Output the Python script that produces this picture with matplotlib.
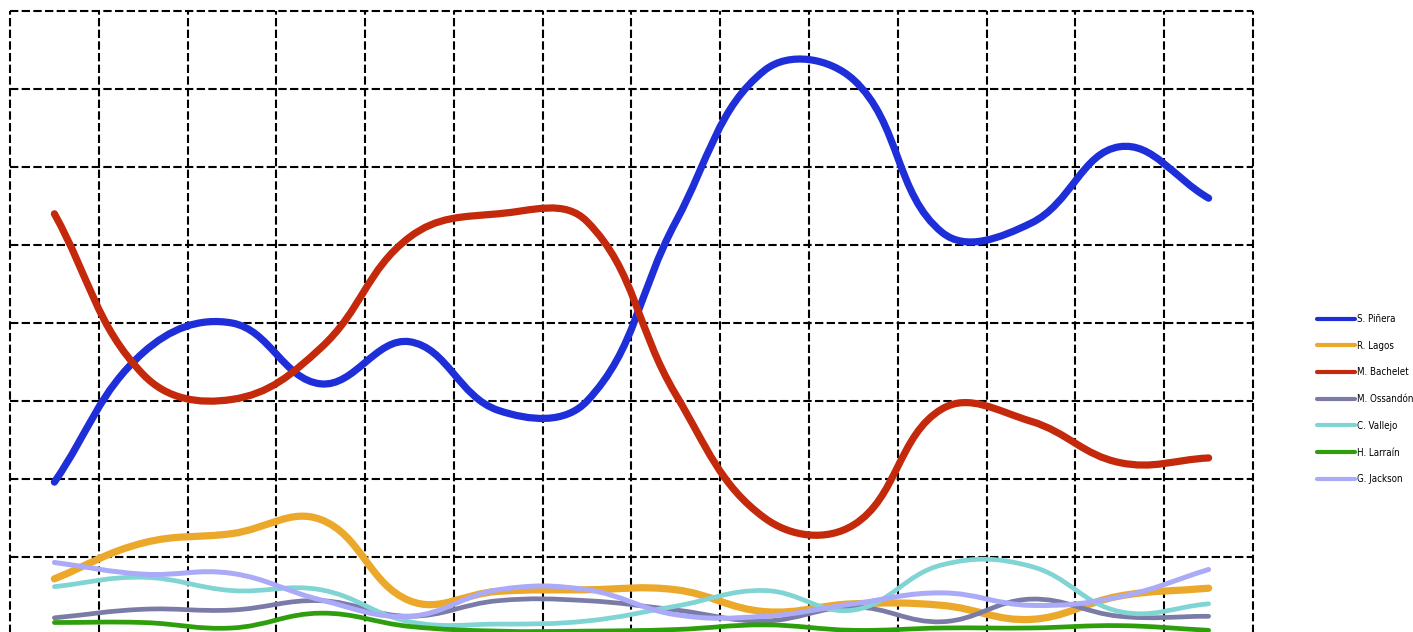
import numpy as np
import matplotlib
matplotlib.use("Agg")
import matplotlib.pyplot as plt
from matplotlib.path import Path
from matplotlib.patches import PathPatch
from matplotlib.lines import Line2D
from matplotlib.font_manager import FontProperties

# poll readings, 14 rounds
rounds = list(range(14))
names = ["S. Piñera", "R. Lagos", "M. Bachelet", "M. Ossandón",
         "C. Vallejo", "H. Larraín", "G. Jackson"]
pinera = [9.8, 18.1, 20.0, 16.1, 18.8, 14.4, 15.0, 26.5, 36.2, 35.6, 25.8, 26.4, 31.3, 28.0]
lagos = [3.6, 5.9, 6.5, 7.4, 2.2, 2.8, 2.9, 2.9, 1.5, 2.0, 1.9, 1.0, 2.5, 3.0]
bachelet = [27.0, 16.7, 15.1, 18.4, 25.5, 27.0, 26.5, 15.4, 7.5, 7.05, 14.5, 13.7, 11.05, 11.35]
ossandon = [1.1, 1.65, 1.6, 2.2, 1.2, 2.2, 2.2, 1.6, 0.9, 1.8, 0.85, 2.3, 1.2, 1.2]
vallejo = [3.1, 3.7, 2.85, 2.9, 0.85, 0.7, 0.9, 1.85, 2.85, 1.6, 4.5, 4.4, 1.5, 2.0]
larrain = [0.8, 0.8, 0.45, 1.4, 0.55, 0.25, 0.25, 0.35, 0.65, 0.3, 0.45, 0.45, 0.6, 0.3]
jackson = [4.65, 3.9, 3.95, 2.25, 1.2, 2.9, 2.9, 1.3, 1.2, 2.0, 2.7, 1.9, 2.45, 4.2]

series = [pinera, lagos, bachelet, ossandon, vallejo, larrain, jackson]
colors = ["#1e2ed8", "#eba82a", "#c4290b", "#7b7ba8", "#80d4d4", "#2f9e0c", "#aaaaf8"]
widths = [5.2, 5.2, 5.2, 3.4, 3.4, 3.4, 3.6]

fig = plt.figure(figsize=(14.13, 6.32), dpi=100)
ax = fig.add_axes([10 / 1413, 1 - 635 / 632, 1243 / 1413, 624 / 632])
ax.set_xlim(-0.5, 13.5)
ax.set_ylim(0, 40)
ax.axis("off")

# dashed grid, drawn by hand so the edge lines are not cut in half
for gx in np.arange(-0.5, 14, 1):
    ax.axvline(gx, color="black", lw=1.5, dashes=(4, 1.6), clip_on=False, zorder=1)
for gy in np.arange(0, 45, 5):
    ax.axhline(gy, color="black", lw=1.5, dashes=(4, 1.6), clip_on=False, zorder=1)


def smooth_path(xs, ys, tension=0.4):
    # bezier spline like chart.js, control points worked out in pixels
    pts = ax.transData.transform(np.column_stack([xs, ys]))
    n = len(pts)
    cp_prev = pts.copy()
    cp_next = pts.copy()
    for i in range(n):
        p = pts[max(i - 1, 0)]
        c = pts[i]
        nx = pts[min(i + 1, n - 1)]
        d01 = np.hypot(*(c - p))
        d12 = np.hypot(*(nx - c))
        tot = d01 + d12
        if tot == 0:
            continue
        fa = tension * d01 / tot
        fb = tension * d12 / tot
        cp_prev[i] = c - fa * (nx - p)
        cp_next[i] = c + fb * (nx - p)
    verts = [pts[0]]
    codes = [Path.MOVETO]
    for i in range(n - 1):
        verts += [cp_next[i], cp_prev[i + 1], pts[i + 1]]
        codes += [Path.CURVE4] * 3
    verts = ax.transData.inverted().transform(np.array(verts))
    return Path(verts, codes)


for vals, col, lw in zip(series, colors, widths):
    patch = PathPatch(smooth_path(rounds, vals), fill=False, edgecolor=col,
                      lw=lw, capstyle="round", joinstyle="round", zorder=3,
                      clip_on=False)
    ax.add_patch(patch)

font = FontProperties(family=["DejaVu Sans"], stretch="condensed", size=7)
handles = [Line2D([], [], color=c, lw=3, solid_capstyle="round") for c in colors]
fig.legend(handles, names, loc="upper left",
           bbox_to_anchor=(1317 / 1413, 1 - 314 / 632),
           frameon=False, handlelength=3.9, handletextpad=0.2,
           labelspacing=1.72, borderpad=0, borderaxespad=0, prop=font)

fig.savefig("out.png", dpi=100)
